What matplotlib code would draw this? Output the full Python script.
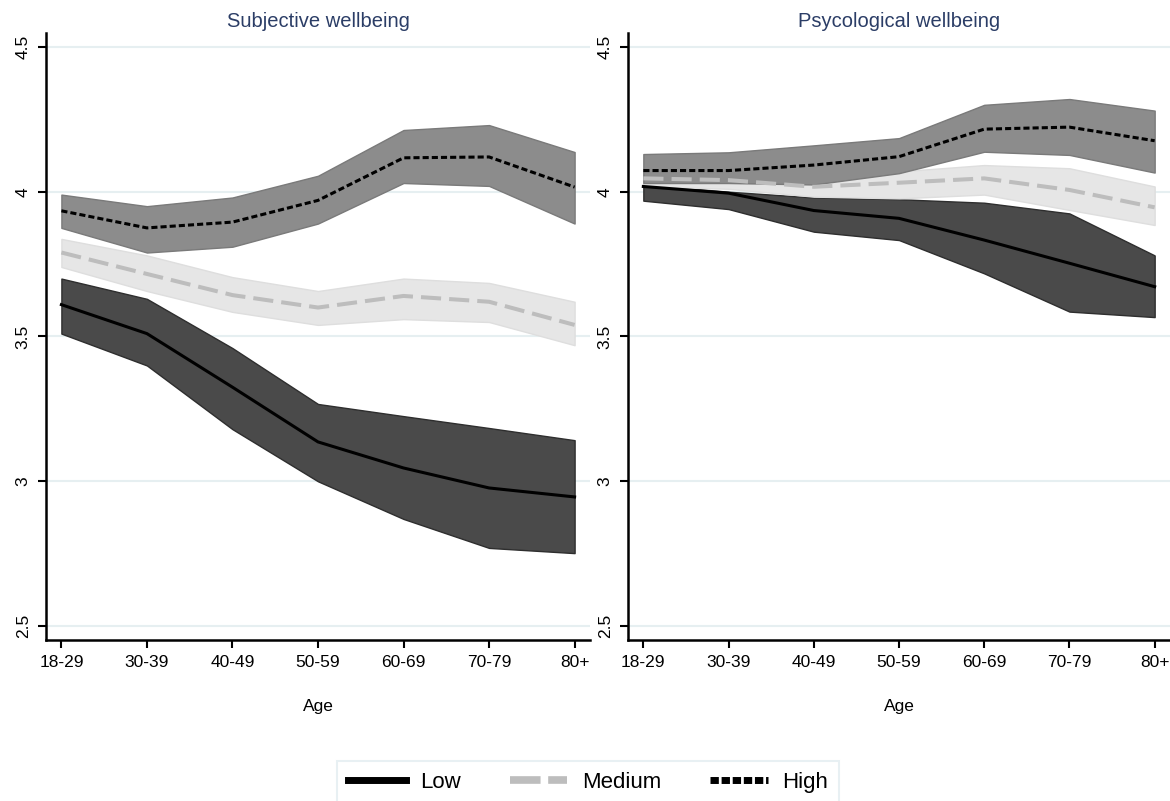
import matplotlib
matplotlib.use("Agg")
import matplotlib.pyplot as plt
from matplotlib.lines import Line2D

plt.rcParams['font.family'] = ['Liberation Sans', 'DejaVu Sans']

ages = ["18-29", "30-39", "40-49", "50-59", "60-69", "70-79", "80+"]
yticks = [2.5, 3, 3.5, 4, 4.5]
yticklabels = ["2.5", "3", "3.5", "4", "4.5"]
titles = ["Subjective wellbeing", "Psycological wellbeing"]

# subjective wellbeing: mean, lower ci, upper ci
swb_low = [3.61, 3.51, 3.325, 3.136, 3.046, 2.977, 2.946]
swb_low_lo = [3.51, 3.40, 3.18, 3.00, 2.87, 2.77, 2.752]
swb_low_hi = [3.70, 3.63, 3.46, 3.267, 3.225, 3.184, 3.142]
swb_med = [3.79, 3.716, 3.643, 3.60, 3.64, 3.62, 3.54]
swb_med_lo = [3.74, 3.657, 3.585, 3.54, 3.56, 3.55, 3.47]
swb_med_hi = [3.837, 3.78, 3.705, 3.657, 3.70, 3.685, 3.62]
swb_high = [3.934, 3.875, 3.895, 3.97, 4.117, 4.12, 4.016]
swb_high_lo = [3.875, 3.79, 3.81, 3.89, 4.03, 4.02, 3.89]
swb_high_hi = [3.99, 3.95, 3.98, 4.055, 4.213, 4.23, 4.137]

# psychological wellbeing
pwb_low = [4.018, 3.995, 3.935, 3.908, 3.833, 3.753, 3.672]
pwb_low_lo = [3.969, 3.94, 3.862, 3.833, 3.718, 3.586, 3.567]
pwb_low_hi = [4.025, 4.0, 3.98, 3.974, 3.962, 3.925, 3.78]
pwb_med = [4.046, 4.04, 4.017, 4.031, 4.046, 4.006, 3.946]
pwb_med_lo = [4.018, 4.01, 3.983, 3.977, 3.99, 3.937, 3.885]
pwb_med_hi = [4.08, 4.06, 4.04, 4.07, 4.092, 4.081, 4.018]
pwb_high = [4.073, 4.073, 4.092, 4.121, 4.216, 4.223, 4.176]
pwb_high_lo = [4.03, 4.03, 4.025, 4.064, 4.138, 4.127, 4.066]
pwb_high_hi = [4.13, 4.136, 4.16, 4.185, 4.30, 4.32, 4.28]

panels = [
    [(swb_low, swb_low_lo, swb_low_hi), (swb_med, swb_med_lo, swb_med_hi), (swb_high, swb_high_lo, swb_high_hi)],
    [(pwb_low, pwb_low_lo, pwb_low_hi), (pwb_med, pwb_med_lo, pwb_med_hi), (pwb_high, pwb_high_lo, pwb_high_hi)],
]

band_fill = ["#4a4a4a", "#e6e6e6", "#8c8c8c"]
band_edge = ["#2e2e2e", "#dedede", "#7a7a7a"]
line_col = ["black", "#bdbdbd", "black"]
line_w = [2.2, 2.9, 2.2]
line_dash = [None, (5, 2), (2, 1)]
names = ["Low", "Medium", "High"]

fig = plt.figure(figsize=(11.7, 8.01), dpi=100)
axes = [fig.add_axes([46 / 1170, 1 - 640 / 801, 544 / 1170, 607 / 801]),
        fig.add_axes([628 / 1170, 1 - 640 / 801, 542 / 1170, 607 / 801])]

x = list(range(len(ages)))
for ax, series, title in zip(axes, panels, titles):
    for i, (m, lo, hi) in enumerate(series):
        ax.fill_between(x, lo, hi, facecolor=band_fill[i], edgecolor=band_edge[i], lw=1.0, zorder=2 + i)
    for i, (m, lo, hi) in enumerate(series):
        ln, = ax.plot(x, m, color=line_col[i], lw=line_w[i], zorder=6)
        if line_dash[i]:
            ln.set_dashes(line_dash[i])
    ax.set_xlim(-0.18, 6.18)
    ax.set_ylim(2.452, 4.548)
    ax.set_xticks(x)
    ax.set_xticklabels(ages, fontsize=12.5)
    ax.set_yticks(yticks)
    ax.set_yticklabels(yticklabels, fontsize=12.5, rotation=90, va="center")
    ax.tick_params(length=6, width=1.5, color="black", pad=5)
    ax.grid(axis="y", color="#e6eff1", lw=1.5, zorder=0)
    for s in ["top", "right"]:
        ax.spines[s].set_visible(False)
    for s in ["left", "bottom"]:
        ax.spines[s].set_linewidth(1.8)
    ax.set_xlabel("Age", fontsize=12.5, labelpad=21)
    ax.set_title(title, fontsize=14.5, color="#2b3d66", pad=4)

handles = []
for i in range(3):
    h = Line2D([], [], color=line_col[i], lw=5 if i != 1 else 5.5)
    if line_dash[i]:
        h.set_dashes((4, 1) if i == 1 else (1.2, 0.4))
    handles.append(h)
leg = fig.legend(handles, names, loc="upper center", bbox_to_anchor=(0.5025, 1 - 750 / 801),
                 ncol=3, fontsize=16, frameon=True, fancybox=False, edgecolor="#e3edf0",
                 handlelength=2.6, handletextpad=0.65, columnspacing=2.2, borderpad=0.5)
leg.get_frame().set_linewidth(1.5)

fig.savefig("out.png", dpi=100)
